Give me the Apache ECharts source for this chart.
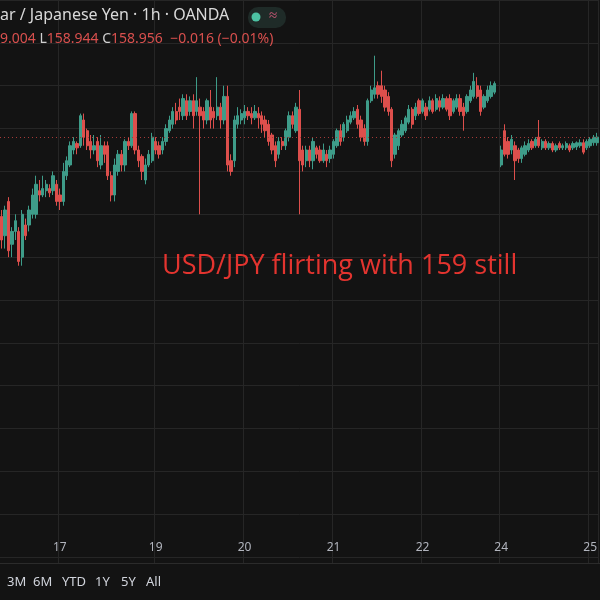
<!DOCTYPE html>
<html><head><meta charset="utf-8">
<script src="https://cdn.jsdelivr.net/npm/echarts@6/dist/echarts.min.js"></script>
<style>html,body{margin:0;padding:0;background:#131313}#c{width:600px;height:600px}</style>
</head><body><div id="c"></div>
<script>
// [open, close, low, high]
const candles = [
[158.795,158.74,158.72,158.81],[158.75,158.81,158.72,158.82],[158.83,158.715,158.70,158.84],[158.73,158.76,158.70,158.77],
[158.76,158.785,158.74,158.80],[158.76,158.69,158.68,158.77],[158.70,158.80,158.68,158.81],[158.775,158.75,158.74,158.79],
[158.775,158.81,158.76,158.82],[158.80,158.845,158.79,158.86],[158.80,158.87,158.79,158.89],[158.855,158.845,158.83,158.88],
[158.845,158.86,158.84,158.89],[158.855,158.87,158.84,158.88],[158.86,158.85,158.84,158.87],[158.855,158.89,158.845,158.90],
[158.87,158.83,158.82,158.88],[158.845,158.83,158.81,158.86],[158.83,158.90,158.82,158.92],[158.89,158.925,158.88,158.935],
[158.915,158.96,158.91,158.97],[158.95,158.97,158.94,158.98],[158.965,158.955,158.94,158.97],[158.96,159.03,158.955,159.035],
[159.02,158.98,158.96,159.035],[158.995,158.96,158.95,159.0],[158.97,158.95,158.93,158.985],[158.95,158.96,158.94,158.985],
[158.97,158.925,158.91,158.98],[158.915,158.96,158.905,158.985],[158.96,158.94,158.92,158.97],[158.96,158.89,158.88,158.97],
[158.89,158.845,158.83,158.90],[158.845,158.915,158.83,158.93],[158.90,158.94,158.89,158.95],[158.94,158.915,158.90,158.95],
[158.915,158.97,158.90,158.975],[158.97,158.96,158.95,158.98],[158.96,159.035,158.955,159.04],[159.035,158.95,158.94,159.04],
[158.95,158.925,158.91,158.96],[158.935,158.90,158.88,158.94],[158.88,158.915,158.87,158.93],[158.915,158.94,158.91,158.95],
[158.925,158.98,158.92,158.99],[158.97,158.95,158.94,158.98],[158.96,158.94,158.93,158.97],[158.95,158.97,158.94,158.98],
[158.97,159.0,158.96,159.01],[158.995,159.02,158.99,159.03],[159.01,159.04,159.0,159.05],[159.04,159.02,159.01,159.06],
[159.05,159.04,159.02,159.07],[159.03,159.07,159.02,159.08],[159.065,159.03,159.02,159.08],[159.04,159.065,159.03,159.075],
[159.065,159.03,159.0,159.08],[159.04,159.065,159.03,159.12],[159.05,159.03,158.80,159.07],[159.04,159.02,159.0,159.05],
[159.02,159.065,159.01,159.07],[159.05,159.02,159.0,159.09],[159.04,159.025,159.0,159.05],[159.03,159.05,159.02,159.12],
[159.05,159.02,159.0,159.06],[159.02,159.075,159.01,159.10],[159.075,158.915,158.90,159.10],[158.925,158.90,158.89,158.94],
[158.925,159.02,158.91,159.03],[159.01,159.03,159.0,159.05],[159.02,159.035,159.01,159.045],[159.025,159.04,159.01,159.055],
[159.04,159.03,159.02,159.05],[159.035,159.025,159.01,159.05],[159.025,159.04,159.02,159.055],[159.035,159.025,159.0,159.05],
[159.03,159.01,158.99,159.04],[159.02,158.995,158.98,159.03],[159.01,158.97,158.96,159.02],[158.985,158.95,158.94,158.99],
[158.96,158.925,158.91,158.97],[158.94,158.97,158.93,158.98],[158.97,158.96,158.95,158.98],[158.96,158.995,158.95,159.0],
[158.98,159.03,158.97,159.04],[159.03,159.01,159.0,159.04],[158.995,159.05,158.99,159.06],[159.045,158.925,158.80,159.09],
[158.95,158.915,158.90,158.96],[158.925,158.95,158.91,158.96],[158.95,158.925,158.91,158.96],[158.925,158.97,158.905,158.98],
[158.955,158.94,158.93,158.96],[158.95,158.925,158.92,158.96],[158.925,158.95,158.92,158.965],[158.94,158.925,158.91,158.95],
[158.93,158.95,158.92,158.96],[158.94,158.97,158.93,158.975],[158.96,158.995,158.955,159.0],[158.995,158.97,158.96,159.01],
[158.98,159.01,158.97,159.015],[158.995,159.02,158.99,159.03],[159.015,159.03,159.01,159.04],[159.025,159.04,159.02,159.05],
[159.045,159.01,159.0,159.055],[159.02,158.98,158.97,159.03],[159.0,158.97,158.96,159.01],[158.97,159.065,158.96,159.07],
[159.065,159.09,159.06,159.10],[159.08,159.095,159.07,159.17],[159.10,159.08,159.07,159.11],[159.10,159.075,159.06,159.135],
[159.09,159.05,159.04,159.10],[159.075,159.04,159.03,159.085],[159.045,158.925,158.91,159.05],[158.94,158.985,158.93,158.99],
[158.96,158.995,158.95,159.0],[158.985,159.01,158.98,159.02],[158.995,159.025,158.99,159.03],[159.015,159.045,159.01,159.055],
[159.045,159.01,159.0,159.05],[159.03,159.05,159.02,159.06],[159.065,159.035,159.03,159.07],[159.04,159.065,159.035,159.07],
[159.05,159.03,159.02,159.06],[159.045,159.065,159.04,159.075],[159.065,159.04,159.035,159.07],[159.045,159.07,159.04,159.08],
[159.065,159.05,159.04,159.075],[159.05,159.07,159.045,159.08],[159.07,159.045,159.04,159.075],[159.07,159.03,159.02,159.08],
[159.04,159.065,159.035,159.07],[159.05,159.07,159.045,159.08],[159.07,159.04,159.03,159.08],[159.05,159.03,158.995,159.06],
[159.04,159.075,159.035,159.08],[159.065,159.09,159.06,159.10],[159.075,159.11,159.07,159.13],[159.10,159.075,159.07,159.12],
[159.09,159.04,159.03,159.10],[159.05,159.075,159.045,159.08],[159.065,159.09,159.06,159.10],[159.075,159.10,159.07,159.11],
[159.085,159.105,159.08,159.11],'-',
[158.915,158.95,158.91,158.96],[158.995,158.94,158.935,159.01],[158.97,158.94,158.93,158.98],[158.95,158.975,158.94,158.985],
[158.96,158.925,158.88,158.97],[158.95,158.93,158.92,158.955],[158.93,158.955,158.92,158.96],[158.94,158.96,158.935,158.97],
[158.95,158.965,158.945,158.975],[158.97,158.955,158.95,158.975],[158.96,158.975,158.955,158.98],[158.98,158.96,158.955,159.02],
[158.955,158.97,158.95,158.975],[158.97,158.955,158.95,158.975],[158.955,158.965,158.95,158.97],[158.965,158.95,158.945,158.97],
[158.95,158.96,158.945,158.965],[158.965,158.955,158.95,158.97],[158.955,158.96,158.95,158.965],[158.955,158.965,158.95,158.97],
[158.96,158.95,158.945,158.965],[158.955,158.965,158.95,158.97],[158.957,158.967,158.95,158.97],[158.96,158.967,158.955,158.975],
[158.967,158.945,158.94,158.975],[158.955,158.97,158.95,158.975],[158.96,158.975,158.955,158.98],[158.967,158.98,158.96,158.985],
[158.967,158.98,158.96,158.99]
];
const dayLabels = ['17','19','20','21','22','24','25'];
const dayIndex = [17,45,71,97,123,146,172];
const lastPrice = 158.979;
const rangeButtons = ['3M','6M','YTD','1Y','5Y','All'];
const rangeX = [7,33,62,95,121,146];

const cats = candles.map(function(_, i){ const k = dayIndex.indexOf(i); return k >= 0 ? dayLabels[k] : ''; });
const isDay = function(i){ return dayIndex.indexOf(i) >= 0; };

const chart = echarts.init(document.getElementById('c'));
const graphics = [
  {type:'rect', shape:{x:0,y:563,width:600,height:37}, style:{fill:'#131313'}, z:100},
  {type:'rect', shape:{x:0,y:563,width:600,height:1}, style:{fill:'#2b2b2b'}, z:101},
  {type:'text', left:0, top:7, z:102, style:{text:'ar / Japanese Yen · 1h · OANDA', fill:'#d9d9d9', font:'16px "Noto Sans"'}},
  {type:'rect', shape:{x:248,y:7,width:38,height:21,r:10}, style:{fill:'#1f2b28'}, z:102},
  {type:'circle', shape:{cx:256,cy:17,r:4.5}, style:{fill:'#4cc2a3'}, z:103},
  {type:'text', x:269, y:8, z:103, style:{text:'≈', fill:'#d05a7a', font:'15px "Noto Sans"'}},
  {type:'text', left:0, top:32, z:102, style:{rich:{r:{fill:'#d9504e',font:'14px "Noto Sans"'},g:{fill:'#d0d0d0',font:'14px "Noto Sans"'}},
     text:'{r|9.004 }{g|L}{r|158.944 }{g|C}{r|158.956  −0.016 (−0.01%)}'}},
  {type:'text', x:162, y:253, z:102, style:{text:'USD/JPY flirting with 159 still', fill:'#e3342f', font:'27px "Open Sans"'}}
];
rangeButtons.forEach(function(t, i){
  graphics.push({type:'text', x:rangeX[i], y:576, z:102, style:{text:t, fill:'#d1d4dc', font:'13px "Noto Sans"'}});
});
chart.setOption({
  backgroundColor:'#131313',
  animation:false,
  grid:{left:0,right:0,top:-1,bottom:-1},
  xAxis:{type:'category', data:cats, boundaryGap:true, offset:-66,
    axisLine:{show:false}, axisTick:{show:false},
    axisLabel:{color:'#b2b5be', fontSize:12, fontFamily:'Noto Sans', interval:function(i){return isDay(i);}},
    splitLine:{show:true, interval:function(i){return isDay(i);}, lineStyle:{color:'#262626',width:1}}},
  yAxis:{type:'value', min:157.9, max:159.3, interval:0.1, show:true,
    axisLabel:{show:false}, axisLine:{show:false}, axisTick:{show:false},
    splitLine:{lineStyle:{color:'#262626',width:1}}},
  series:[{type:'candlestick', data:candles, barWidth:2.8,
    itemStyle:{color:'#3e9c89', color0:'#dd4f4c', borderColor:'#3e9c89', borderColor0:'#dd4f4c', borderWidth:1},
    markLine:{silent:true, symbol:'none', label:{show:false},
      lineStyle:{color:'#a53a38', type:[1,3], width:1}, data:[{yAxis:lastPrice}]}}],
  graphic:graphics
});
</script></body></html>
